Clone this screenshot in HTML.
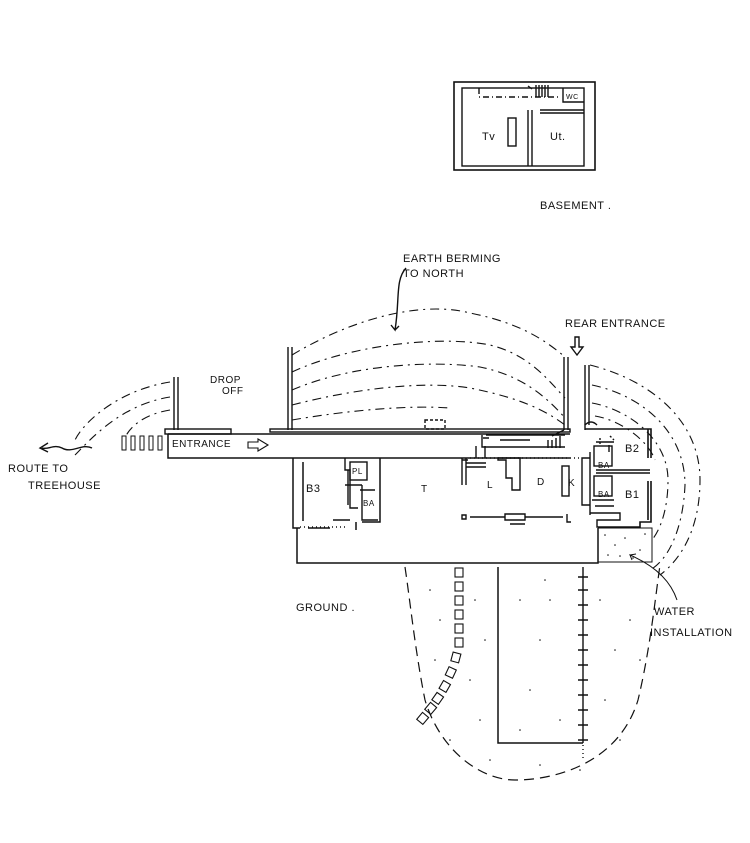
<!DOCTYPE html>
<html><head><meta charset="utf-8"><style>
html,body{margin:0;padding:0;background:#fff;}
svg{display:block}
text{font-family:"Liberation Sans",sans-serif;fill:#111;stroke:none;font-size:11px;letter-spacing:0.5px}
</style></head><body>
<svg width="750" height="843" viewBox="0 0 750 843" xmlns="http://www.w3.org/2000/svg" fill="none" stroke="#111" stroke-width="1.4">
<!-- BASEMENT -->
<rect x="454" y="82" width="141" height="88" stroke-width="1.6"/>
<rect x="462" y="88" width="122" height="78"/>
<path d="M479 88 V97 H560" stroke-dasharray="6 3 1 3"/>
<path d="M528 110 V166 M532 110 V166 M540 110 H584 M540 113 H584 M563 88 V102 H584"/>
<path d="M528 86 l4 3 M536 85 v12 M539 85 v12 M542 85 v12 M545 85 v12 M548 85 v12"/>
<rect x="508" y="118" width="8" height="28"/>
<text x="482" y="140">Tv</text><text x="550" y="140">Ut.</text>
<text x="566" y="99" style="font-size:7px">WC</text>
<text x="540" y="209">BASEMENT .</text>
<!-- labels -->
<text x="403" y="262">EARTH BERMING</text>
<text x="403" y="277">TO NORTH</text>
<path d="M406 268 C395 280 400 300 395 330 l-4 -5 M395 330 l4 -4"/>
<text x="565" y="327">REAR ENTRANCE</text>
<path d="M575 337 v10 h-4 l6 8 l6 -8 h-4 v-10 z"/>
<text x="210" y="383" style="font-size:10px">DROP</text>
<text x="222" y="394" style="font-size:10px">OFF</text>
<text x="8" y="472">ROUTE TO</text>
<text x="28" y="489">TREEHOUSE</text>
<path d="M92 448 c-10 -5 -20 6 -30 0 c-8 -4 -14 2 -20 0 m6 -5 l-8 5 l8 4"/>
<text x="296" y="611">GROUND .</text>
<text x="654" y="615">WATER</text>
<text x="650" y="636">INSTALLATION</text>
<path d="M677 600 C672 585 660 568 630 555 l2 5 M630 555 l6 -1" stroke-width="1"/>
<!-- berm curves -->
<g stroke-dasharray="9 5 2 5" stroke-width="1.1">
<path d="M292 355 C350 320 420 300 470 313 C520 323 545 340 565 357"/>
<path d="M292 372 C350 345 440 335 490 345 C530 355 548 380 565 398"/>
<path d="M292 390 C350 365 430 360 480 367 C520 375 545 395 565 418"/>
<path d="M292 405 C350 390 420 380 470 388 C520 398 545 410 565 425"/>
<path d="M292 420 C350 410 410 405 450 408"/>
<path d="M590 365 C650 380 700 420 700 480 C700 530 680 560 660 575"/>
<path d="M592 385 C640 395 685 430 685 485 C683 530 668 560 650 570"/>
<path d="M592 403 C630 410 668 440 668 480 C668 510 660 530 652 540"/>
<path d="M595 416 C620 420 648 440 655 460"/>
<path d="M170 397 C120 405 90 440 75 455"/>
<path d="M170 382 C120 390 85 420 75 440"/>
<path d="M170 410 C140 415 128 430 125 438"/>
</g>
<!-- walls -->
<path d="M174 377 V430 M178 377 V430 M288 347 V430 M292 347 V430 M564 357 V430 M568 357 V430 M585 365 V425 M589 365 V425" stroke-width="1.4"/>
<rect x="165" y="429" width="66" height="5"/>
<rect x="270" y="429" width="300" height="3"/>
<!-- corridor -->
<path d="M168 434 V458 H570 M168 434 H570" stroke-width="1.5"/>
<path d="M122 436 v14 h4 v-14 z M131 436 v14 h4 v-14 z M140 436 v14 h4 v-14 z M149 436 v14 h4 v-14 z M158 436 v14 h4 v-14 z" stroke-width="1"/>
<text x="172" y="447" style="font-size:10px">ENTRANCE</text>
<path d="M248 442 h10 v-3 l10 6 l-10 6 v-3 h-10 z" stroke-width="1.1"/>
<rect x="425" y="420" width="20" height="9" stroke-dasharray="3 2"/>
<!-- stair area -->
<path d="M482 435 V447 H565 M486 435 H565 M483 438 l6 0 M500 440 h30"/>
<path d="M552 436 l12 -6 M548 440 v8 M552 440 v8 M556 438 v10 M560 436 v12"/>
<path d="M462 458 V485 M466 458 V485 M462 460 h6 M466 463 h20 M466 467 h20 M476 458 v-12 M485 458 v-12"/>
<!-- right wing -->
<path d="M585 429 H651 V458 M648 429 V458 M651 481 V522 H640 V528 M648 481 V520" stroke-width="1.6"/>
<path d="M585 430 V425 q6 -6 12 0 M596 470 H650 M596 473 H650"/>
<rect x="594" y="446" width="18" height="20"/><rect x="594" y="476" width="18" height="20"/>
<path d="M582 458 V505 H590 V458 Z M590 452 V515 M595 506 H614 M596 442 H614 M609 445 v7"/>
<path d="M592 500 h22 M590 513 H620 V520 H597 V527 H640" />
<path d="M600 438 v8 M610 436 l4 4" stroke-dasharray="2 2"/>
<text x="598" y="468" style="font-size:8px">BA</text><text x="598" y="497" style="font-size:8px">BA</text>
<text x="625" y="452">B2</text><text x="625" y="498">B1</text>
<text x="568" y="486" style="font-size:10px">K</text>
<rect x="562" y="466" width="7" height="30"/>
<text x="487" y="488" style="font-size:10px">L</text>
<text x="537" y="485" style="font-size:10px">D</text>
<path d="M498 458 H520 V490 H512 V478 H506 V460 H498 Z"/>
<path d="M470 458 H580" stroke-dasharray="1 3"/>
<path d="M462 515 h4 v4 h-4 z M470 517 H505 M505 514 h20 v6 h-20 z M525 517 H563 M567 514 v8 h4 M510 524 h15"/>
<!-- B3 block -->
<path d="M293 458 V528 H300 M303 521 V462 M308 528 H330 M333 520 H350 M356 522 V530 M362 522 H380 V458" stroke-width="1.5"/>
<path d="M345 458 V470 H350 V508 H358 M348 470 V505 M360 490 H375 M345 485 H362 M362 485 V520 H378"/>
<rect x="350" y="462" width="17" height="18"/>
<text x="306" y="492">B3</text>
<text x="352" y="474" style="font-size:8px">PL</text>
<text x="363" y="506" style="font-size:8px">BA</text>
<text x="421" y="492" style="font-size:10px">T</text>
<path d="M300 527 H345" stroke-dasharray="1 3"/>
<!-- south terrace -->
<path d="M297 528 V563 H598 V528" stroke-width="1.5"/>
<path d="M598 528 H652 V562 H598" stroke-width="1"/>
<g fill="#111" stroke="none">
<circle cx="605" cy="535" r=".8"/><circle cx="615" cy="545" r=".8"/><circle cx="625" cy="538" r=".8"/><circle cx="640" cy="550" r=".8"/><circle cx="608" cy="555" r=".8"/><circle cx="633" cy="558" r=".8"/><circle cx="645" cy="534" r=".8"/><circle cx="620" cy="556" r=".8"/>
</g>
<!-- garden -->
<path d="M405 567 C410 600 415 650 425 700 C440 750 480 780 515 780 C560 780 620 760 638 700 C650 650 655 600 660 565" stroke-dasharray="10 6" stroke-width="1.2"/>
<path d="M498 567 V743 H583" stroke-width="1.5"/>
<path d="M583 567 V743"/>
<path d="M583 745 V760" stroke-dasharray="1 3"/>
<path d="M578 577 h10 M578 590 h10 M578 605 h10 M578 620 h10 M578 635 h10 M578 650 h10 M578 665 h10 M578 680 h10 M578 695 h10 M578 710 h10 M578 725 h10 M578 740 h10"/>
<g stroke-width="1.1">
<rect x="455" y="568" width="8" height="9"/><rect x="455" y="582" width="8" height="9"/><rect x="455" y="596" width="8" height="9"/><rect x="455" y="610" width="8" height="9"/><rect x="455" y="624" width="8" height="9"/><rect x="455" y="638" width="8" height="9"/>
<rect x="452" y="653" width="8" height="9" transform="rotate(15 456 657)"/>
<rect x="447" y="668" width="8" height="9" transform="rotate(25 451 672)"/>
<rect x="441" y="682" width="8" height="9" transform="rotate(30 445 686)"/>
<rect x="434" y="694" width="8" height="9" transform="rotate(35 438 698)"/>
<rect x="427" y="704" width="8" height="9" transform="rotate(40 431 708)"/>
<rect x="419" y="714" width="8" height="9" transform="rotate(40 423 718)"/>
</g>
<g fill="#111" stroke="none">
<circle cx="430" cy="590" r=".8"/><circle cx="440" cy="620" r=".8"/><circle cx="475" cy="600" r=".8"/><circle cx="485" cy="640" r=".8"/><circle cx="470" cy="680" r=".8"/><circle cx="480" cy="720" r=".8"/><circle cx="450" cy="740" r=".8"/><circle cx="490" cy="760" r=".8"/><circle cx="520" cy="600" r=".8"/><circle cx="540" cy="640" r=".8"/><circle cx="530" cy="690" r=".8"/><circle cx="560" cy="720" r=".8"/><circle cx="550" cy="600" r=".8"/><circle cx="520" cy="730" r=".8"/><circle cx="600" cy="600" r=".8"/><circle cx="615" cy="650" r=".8"/><circle cx="630" cy="620" r=".8"/><circle cx="605" cy="700" r=".8"/><circle cx="620" cy="740" r=".8"/><circle cx="540" cy="765" r=".8"/><circle cx="580" cy="770" r=".8"/><circle cx="435" cy="660" r=".8"/><circle cx="545" cy="580" r=".8"/><circle cx="640" cy="660" r=".8"/>
</g>
</svg>
</body></html>
